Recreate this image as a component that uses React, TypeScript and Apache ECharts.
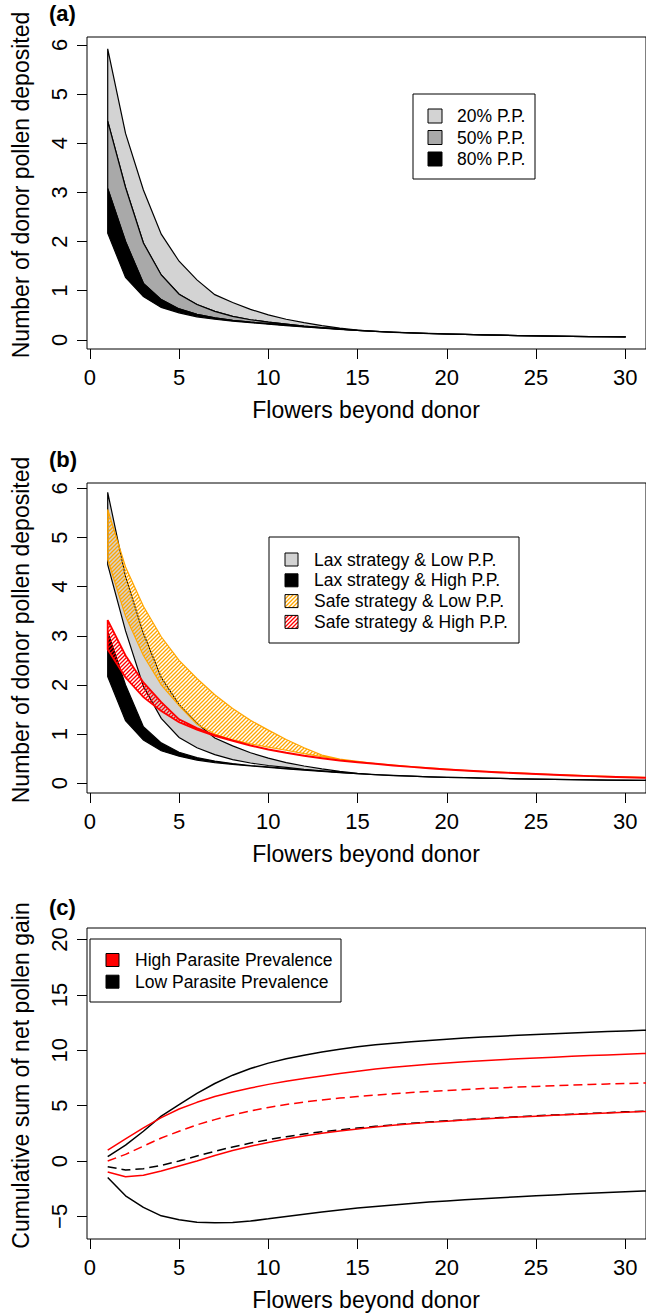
import React, { useEffect, useRef } from 'react';
import * as echarts from 'echarts';

// ---------- data ----------
const xTicks = [0, 5, 10, 15, 20, 25, 30];
const yTicksAB = [0, 1, 2, 3, 4, 5, 6];
const yTicksC = [-5, 0, 5, 10, 15, 20];

const xsA = [1, 2, 3, 4, 5, 6, 7, 8, 9, 10, 11, 12, 13, 14, 15, 16, 17, 18, 19, 20, 21, 22, 23, 24, 25, 26, 27, 28, 29, 30];
const xsBC = [1, 2, 3, 4, 5, 6, 7, 8, 9, 10, 11, 12, 13, 14, 15, 16, 17, 18, 19, 20, 21, 22, 23, 24, 25, 26, 27, 28, 29, 30, 31, 32];

// Panel (a) / (b) lax-strategy curves
const curve20Upper = [5.92, 4.2, 3.05, 2.15, 1.6, 1.22, 0.92, 0.76, 0.62, 0.51, 0.42, 0.35, 0.29, 0.24, 0.2, 0.175, 0.158, 0.143, 0.131, 0.121, 0.112, 0.104, 0.097, 0.09, 0.084, 0.079, 0.074, 0.069, 0.065, 0.061, 0.058, 0.055];
const curve50Upper = [4.45, 3.1, 1.97, 1.32, 0.93, 0.72, 0.58, 0.48, 0.41, 0.36, 0.32, 0.28, 0.25, 0.22, 0.195, 0.173, 0.156, 0.142, 0.13, 0.12, 0.111, 0.103, 0.096, 0.089, 0.083, 0.078, 0.073, 0.068, 0.064, 0.06, 0.057, 0.054];
const curve80Upper = [3.08, 2.0, 1.15, 0.82, 0.63, 0.52, 0.45, 0.4, 0.36, 0.33, 0.3, 0.27, 0.245, 0.218, 0.193, 0.172, 0.156, 0.142, 0.13, 0.12, 0.111, 0.103, 0.096, 0.089, 0.083, 0.078, 0.073, 0.068, 0.064, 0.06, 0.057, 0.054];
const curve80Lower = [2.17, 1.27, 0.88, 0.66, 0.55, 0.47, 0.42, 0.38, 0.35, 0.32, 0.29, 0.265, 0.24, 0.215, 0.192, 0.171, 0.155, 0.141, 0.129, 0.119, 0.11, 0.102, 0.095, 0.088, 0.082, 0.077, 0.072, 0.067, 0.063, 0.059, 0.056, 0.053];

// Panel (b) safe-strategy bands
const safeLowUpper = [5.57, 4.4, 3.6, 2.98, 2.5, 2.13, 1.8, 1.52, 1.28, 1.08, 0.89, 0.72, 0.57, 0.49, 0.445, 0.4, 0.368, 0.338, 0.31, 0.285, 0.263, 0.243, 0.225, 0.208, 0.192, 0.177, 0.163, 0.15, 0.138, 0.127, 0.117, 0.108];
const safeLowLower = [4.55, 3.4, 2.6, 2.0, 1.58, 1.2, 1.0, 0.88, 0.8, 0.735, 0.67, 0.6, 0.54, 0.485, 0.438, 0.398, 0.366, 0.336, 0.308, 0.283, 0.261, 0.241, 0.223, 0.206, 0.19, 0.175, 0.161, 0.148, 0.136, 0.125, 0.115, 0.106];
const safeHighUpper = [3.32, 2.6, 2.05, 1.65, 1.3, 1.12, 0.98, 0.87, 0.77, 0.69, 0.62, 0.56, 0.51, 0.465, 0.43, 0.395, 0.363, 0.333, 0.305, 0.28, 0.258, 0.238, 0.22, 0.203, 0.187, 0.172, 0.158, 0.145, 0.133, 0.122, 0.112, 0.103];
const safeHighLower = [2.72, 2.15, 1.75, 1.47, 1.24, 1.09, 0.96, 0.86, 0.765, 0.685, 0.615, 0.555, 0.505, 0.46, 0.425, 0.391, 0.36, 0.33, 0.302, 0.277, 0.255, 0.235, 0.217, 0.2, 0.184, 0.169, 0.155, 0.142, 0.13, 0.119, 0.109, 0.1];

// Panel (c) cumulative net pollen gain
const lowPPUpper = [0.39, 1.43, 2.69, 4.05, 5.09, 6.1, 7.0, 7.75, 8.35, 8.84, 9.23, 9.56, 9.84, 10.1, 10.32, 10.5, 10.64, 10.77, 10.89, 11.0, 11.1, 11.19, 11.27, 11.35, 11.42, 11.49, 11.56, 11.63, 11.69, 11.75, 11.81, 11.86];
const highPPUpper = [0.99, 2.01, 3.0, 3.92, 4.7, 5.3, 5.82, 6.23, 6.59, 6.92, 7.2, 7.45, 7.68, 7.9, 8.1, 8.3, 8.46, 8.6, 8.73, 8.85, 8.96, 9.06, 9.15, 9.23, 9.31, 9.38, 9.45, 9.52, 9.58, 9.64, 9.7, 9.75];
const highPPMean = [0.0, 0.6, 1.35, 2.08, 2.69, 3.27, 3.74, 4.16, 4.52, 4.84, 5.1, 5.33, 5.52, 5.68, 5.82, 5.95, 6.07, 6.18, 6.28, 6.37, 6.46, 6.54, 6.61, 6.68, 6.74, 6.8, 6.86, 6.91, 6.96, 7.0, 7.04, 7.08];
const lowPPMean = [-0.51, -0.81, -0.69, -0.39, 0.0, 0.45, 0.88, 1.27, 1.62, 1.93, 2.2, 2.44, 2.64, 2.82, 2.98, 3.13, 3.27, 3.4, 3.52, 3.63, 3.73, 3.83, 3.92, 4.0, 4.08, 4.16, 4.23, 4.3, 4.37, 4.44, 4.5, 4.56];
const highPPLower = [-0.99, -1.42, -1.29, -0.9, -0.45, 0.0, 0.5, 0.95, 1.33, 1.68, 1.98, 2.26, 2.5, 2.71, 2.9, 3.07, 3.22, 3.36, 3.49, 3.6, 3.7, 3.8, 3.89, 3.97, 4.05, 4.13, 4.2, 4.27, 4.34, 4.41, 4.47, 4.53];
const lowPPLower = [-1.49, -3.14, -4.19, -4.95, -5.3, -5.52, -5.57, -5.55, -5.42, -5.22, -5.0, -4.8, -4.6, -4.42, -4.25, -4.1, -3.96, -3.83, -3.71, -3.6, -3.5, -3.4, -3.31, -3.22, -3.14, -3.06, -2.98, -2.91, -2.84, -2.77, -2.71, -2.65];

const legendA = ['20% P.P.', '50% P.P.', '80% P.P.'];
const legendB = ['Lax strategy & Low P.P.', 'Lax strategy & High P.P.', 'Safe strategy & Low P.P.', 'Safe strategy & High P.P.'];
const legendC = ['High Parasite Prevalence', 'Low Parasite Prevalence'];

// ---------- styles ----------
const FONT = "'Liberation Sans', Arial, Helvetica, sans-serif";
const LIGHT = '#D3D3D3';
const MID = '#A9A9A9';
const ORANGE = '#FFA500';
const RED = '#FF0000';

function hatch(color: string) {
  const c = document.createElement('canvas');
  c.width = 4;
  c.height = 4;
  const g = c.getContext('2d')!;
  g.strokeStyle = color;
  g.lineWidth = 1.3;
  g.beginPath();
  g.moveTo(-1, 5); g.lineTo(5, -1);
  g.moveTo(-1, 1); g.lineTo(1, -1);
  g.moveTo(3, 5); g.lineTo(5, 3);
  g.stroke();
  return { image: c, repeat: 'repeat' } as any;
}

function band(idx: number, xs: number[], upper: number[], lower: number[], style: any, z: number) {
  const n = upper.length;
  return {
    type: 'custom',
    xAxisIndex: idx,
    yAxisIndex: idx,
    z,
    silent: true,
    data: [[xs[0], upper[0]]],
    renderItem: (_p: any, api: any) => {
      const pts: number[][] = [];
      for (let i = 0; i < n; i++) pts.push(api.coord([xs[i], upper[i]]));
      for (let i = n - 1; i >= 0; i--) pts.push(api.coord([xs[i], lower[i]]));
      return { type: 'polygon', shape: { points: pts }, style };
    },
  };
}

function line(xs: number[], ys: number[], color: string, dashed: boolean, z: number) {
  return {
    type: 'line',
    xAxisIndex: 2,
    yAxisIndex: 2,
    z,
    silent: true,
    symbol: 'none',
    data: xs.map((x, i) => [x, ys[i]]),
    lineStyle: { color, width: 1.5, type: dashed ? [9, 5] : 'solid' },
  };
}

const fmt = (v: number) => (v < 0 ? '\u2212' + Math.abs(v) : String(v));

export default function App() {
  const ref = useRef<HTMLDivElement>(null);
  useEffect(() => {
    if (!ref.current) return;
    const chart = echarts.init(ref.current, null, { renderer: 'svg' });
    const hatchOrange = hatch(ORANGE);
    const hatchRed = hatch(RED);

    const gridTops = [37, 483, 928];
    const gridHeights = [312, 310, 311];
    const grid = gridTops.map((t, i) => ({
      left: 87, top: t, width: 562, height: gridHeights[i],
      show: true, borderColor: '#000', borderWidth: 1, backgroundColor: 'transparent',
    }));
    const xAxis = [0, 1, 2].map((i) => ({
      type: 'value', gridIndex: i, min: -0.16, max: 31.16, position: 'bottom',
      axisLine: { show: false, onZero: false },
      splitLine: { show: false },
      axisTick: { show: true, length: 10, customValues: xTicks, lineStyle: { color: '#000', width: 1 } },
      axisLabel: { customValues: xTicks, fontSize: 22, color: '#000', margin: 17, fontFamily: FONT, formatter: fmt },
    }));
    const yRanges = [[-0.185, 6.16], [-0.2, 6.11], [-7.04, 21.04]];
    const yAxis = [0, 1, 2].map((i) => ({
      type: 'value', gridIndex: i, min: yRanges[i][0], max: yRanges[i][1], position: 'left',
      axisLine: { show: false, onZero: false },
      splitLine: { show: false },
      axisTick: { show: true, length: 10, customValues: i < 2 ? yTicksAB : yTicksC, lineStyle: { color: '#000', width: 1 } },
      axisLabel: { customValues: i < 2 ? yTicksAB : yTicksC, fontSize: 22, color: '#000', margin: 17, rotate: 90, fontFamily: FONT, formatter: fmt },
    }));

    const series: any[] = [
      band(0, xsA, curve20Upper.slice(0, 30), curve50Upper.slice(0, 30), { fill: LIGHT, stroke: '#000', lineWidth: 1.2 }, 2),
      band(0, xsA, curve50Upper.slice(0, 30), curve80Upper.slice(0, 30), { fill: MID, stroke: '#000', lineWidth: 1.2 }, 3),
      band(0, xsA, curve80Upper.slice(0, 30), curve80Lower.slice(0, 30), { fill: '#000', stroke: '#000', lineWidth: 1.2 }, 4),

      band(1, xsBC, curve20Upper, curve50Upper, { fill: LIGHT, stroke: '#000', lineWidth: 1.2 }, 2),
      band(1, xsBC, curve80Upper, curve80Lower, { fill: '#000', stroke: '#000', lineWidth: 1.2 }, 3),
      band(1, xsBC, safeLowUpper, safeLowLower, { fill: hatchOrange, stroke: ORANGE, lineWidth: 1.2 }, 4),
      band(1, xsBC, safeHighUpper, safeHighLower, { fill: hatchRed, stroke: RED, lineWidth: 1.8 }, 5),

      line(xsBC, lowPPUpper, '#000', false, 2),
      line(xsBC, lowPPLower, '#000', false, 2),
      line(xsBC, lowPPMean, '#000', true, 2),
      line(xsBC, highPPUpper, RED, false, 3),
      line(xsBC, highPPLower, RED, false, 3),
      line(xsBC, highPPMean, RED, true, 3),
    ];

    const txt = (text: string, x: number, y: number, size: number, extra: any = {}) => ({
      type: 'text', x, y, z: 100,
      style: { text, fontSize: size, fontFamily: FONT, fill: '#000', align: 'left', verticalAlign: 'middle', ...extra.style },
      ...extra.el,
    });

    const graphic: any[] = [];
    ['(a)', '(b)', '(c)'].forEach((t, i) => {
      graphic.push(txt(t, 49, [13, 459, 907][i], 22, { style: { fontWeight: 'bold' } }));
    });
    const yTitles = ['Number of donor pollen deposited', 'Number of donor pollen deposited', 'Cumulative sum of net pollen gain'];
    gridTops.forEach((t, i) => {
      graphic.push(txt(yTitles[i], 21, t + gridHeights[i] / 2 - 8, 23, { style: { align: 'center' }, el: { rotation: Math.PI / 2 } }));
      graphic.push(txt('Flowers beyond donor', 366, t + gridHeights[i] + 61, 23, { style: { align: 'center' } }));
    });

    // legend (a)
    graphic.push({ type: 'rect', z: 90, shape: { x: 413, y: 94, width: 122, height: 85 }, style: { fill: '#fff', stroke: '#000', lineWidth: 1 } });
    const fillsA = [LIGHT, MID, '#000'];
    legendA.forEach((t, i) => {
      const cy = 116 + i * 21.5;
      graphic.push({ type: 'rect', z: 95, shape: { x: 428, y: cy - 7, width: 14, height: 14 }, style: { fill: fillsA[i], stroke: '#000', lineWidth: 1 } });
      graphic.push(txt(t, 457, cy, 17.5));
    });

    // legend (b)
    graphic.push({ type: 'rect', z: 90, shape: { x: 269, y: 537, width: 250, height: 106 }, style: { fill: '#fff', stroke: '#000', lineWidth: 1 } });
    const fillsB = [LIGHT, '#000', hatchOrange, hatchRed];
    legendB.forEach((t, i) => {
      const cy = 559.5 + i * 20.8;
      graphic.push({ type: 'rect', z: 95, shape: { x: 285, y: cy - 6.5, width: 13, height: 13 }, style: { fill: fillsB[i], stroke: '#000', lineWidth: 1 } });
      graphic.push(txt(t, 314, cy, 17.5));
    });

    // legend (c)
    graphic.push({ type: 'rect', z: 90, shape: { x: 90, y: 939, width: 251, height: 63 }, style: { fill: '#fff', stroke: '#000', lineWidth: 1 } });
    const fillsC = [RED, '#000'];
    legendC.forEach((t, i) => {
      const cy = 960 + i * 21.7;
      graphic.push({ type: 'rect', z: 95, shape: { x: 106, y: cy - 6.5, width: 13, height: 13 }, style: { fill: fillsC[i], stroke: '#000', lineWidth: 1 } });
      graphic.push(txt(t, 135, cy, 17.5));
    });

    chart.setOption({
      animation: false,
      backgroundColor: '#fff',
      grid,
      xAxis,
      yAxis,
      series,
      graphic,
    });
    return () => chart.dispose();
  }, []);

  return <div ref={ref} style={{ position: 'absolute', left: 0, top: 0, width: 646, height: 1316 }} />;
}
